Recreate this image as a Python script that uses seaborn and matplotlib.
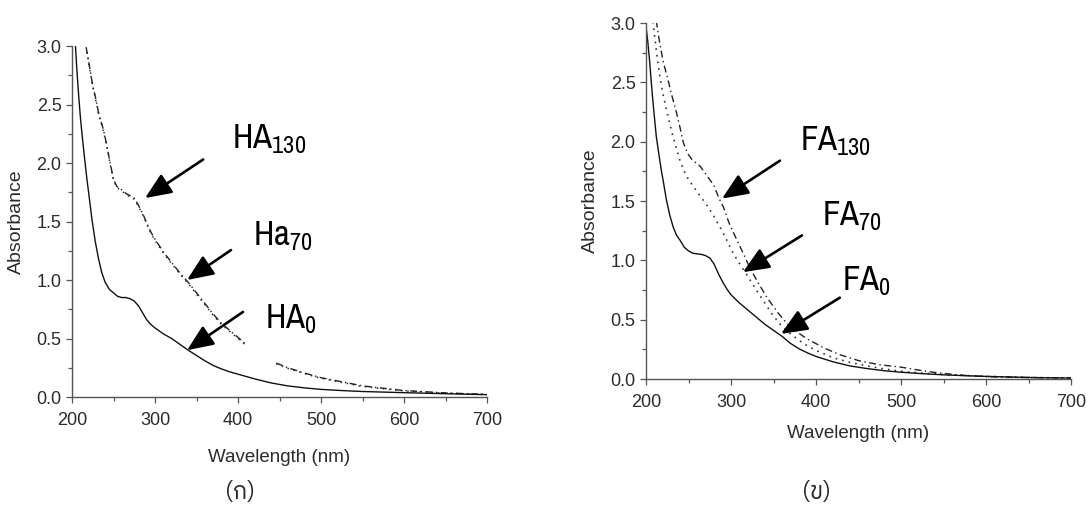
import numpy as np
import pandas as pd
import matplotlib
matplotlib.use("Agg")
import matplotlib.pyplot as plt
import seaborn as sns
from matplotlib import font_manager as fm
from matplotlib.ft2font import FT2Font
from matplotlib.ticker import MultipleLocator, FormatStrFormatter

# ---------------- data ----------------
# Panel (ก): humic acid
HA0_WL = [204, 206, 208, 210, 212, 215, 218, 220, 224, 228, 232, 236, 240, 245, 250, 255, 260, 265,
          270, 275, 280, 285, 290, 295, 300, 310, 320, 330, 340, 350, 360, 370, 380, 390, 400,
          420, 440, 460, 480, 500, 525, 550, 575, 600, 650, 700]
HA0_ABS = [3.02, 2.78, 2.58, 2.40, 2.25, 2.05, 1.86, 1.75, 1.52, 1.33, 1.18, 1.06, 0.98, 0.92, 0.89,
           0.86, 0.85, 0.85, 0.84, 0.82, 0.78, 0.72, 0.66, 0.62, 0.59, 0.54, 0.50, 0.45, 0.40, 0.355,
           0.31, 0.27, 0.24, 0.215, 0.195, 0.155, 0.12, 0.095, 0.078, 0.065, 0.055, 0.047, 0.042,
           0.037, 0.028, 0.02]

HA130_WL = [217, 220, 225, 228, 232, 238, 242, 246, 250, 254, 260, 265, 270, 275, 280, 285, 290,
            295, 300, 310, 320, 330, 340, 350, 360, 370, 380, 390, 400, 408, 427, 446, 460, 480,
            500, 525, 550, 575, 600, 650, 700]
HA130_ABS = [2.99, 2.87, 2.66, 2.57, 2.43, 2.28, 2.15, 2.00, 1.86, 1.80, 1.77, 1.74, 1.72, 1.70,
             1.64, 1.57, 1.49, 1.41, 1.35, 1.24, 1.15, 1.06, 0.98, 0.89, 0.80, 0.71, 0.63, 0.57,
             0.51, 0.46, np.nan, 0.29, 0.25, 0.205, 0.165, 0.13, 0.095, 0.075, 0.055, 0.035, 0.022]

HA70_WL = [218, 220, 225, 228, 232, 238, 242, 246, 250, 254, 260, 265, 270, 275, 280, 285, 290,
           295, 300, 310, 320, 330, 340, 350, 360, 370, 380, 390, 400, 408, 427, 446, 460, 480,
           500, 525, 550, 575, 600, 650, 700]
HA70_ABS = [2.95, 2.86, 2.65, 2.56, 2.42, 2.27, 2.14, 1.99, 1.85, 1.79, 1.76, 1.73, 1.71, 1.69,
            1.63, 1.56, 1.48, 1.40, 1.34, 1.23, 1.14, 1.05, 0.97, 0.88, 0.79, 0.70, 0.62, 0.56,
            0.50, 0.45, np.nan, 0.285, 0.245, 0.20, 0.16, 0.125, 0.09, 0.07, 0.052, 0.033, 0.021]

# Panel (ข): fulvic acid
FA0_WL = [200, 202, 204, 206, 208, 210, 212, 215, 218, 220, 224, 228, 232, 236, 240, 245, 250,
          255, 260, 265, 270, 275, 280, 285, 290, 295, 300, 310, 320, 330, 340, 350, 360, 370,
          380, 390, 400, 420, 440, 460, 480, 500, 525, 550, 575, 600, 650, 700]
FA0_ABS = [2.97, 2.85, 2.70, 2.52, 2.35, 2.20, 2.05, 1.90, 1.76, 1.68, 1.51, 1.38, 1.28, 1.21,
           1.17, 1.11, 1.08, 1.06, 1.055, 1.05, 1.04, 1.02, 0.97, 0.89, 0.82, 0.76, 0.71, 0.64,
           0.58, 0.52, 0.46, 0.41, 0.36, 0.30, 0.255, 0.22, 0.19, 0.145, 0.11, 0.088, 0.07,
           0.057, 0.045, 0.035, 0.028, 0.022, 0.013, 0.008]

FA70_WL = [208, 210, 213, 216, 220, 225, 230, 234, 240, 245, 250, 256, 262, 268, 272, 280, 287,
           293, 299, 305, 312, 318, 328, 338, 348, 358, 370, 385, 400, 420, 440, 460, 480, 500,
           525, 550, 575, 600, 650, 700]
FA70_ABS = [3.01, 2.90, 2.72, 2.56, 2.40, 2.24, 2.09, 1.99, 1.84, 1.75, 1.68, 1.62, 1.56, 1.50,
            1.46, 1.37, 1.28, 1.20, 1.11, 1.03, 0.95, 0.885, 0.77, 0.66, 0.55, 0.46, 0.38, 0.30,
            0.24, 0.18, 0.14, 0.11, 0.085, 0.065, 0.05, 0.038, 0.03, 0.022, 0.013, 0.008]

FA130_WL = [212, 215, 220, 226, 230, 236, 240, 244, 249, 254, 259, 264, 270, 275, 280, 286, 291,
            298, 307, 315, 322, 332, 342, 355, 369, 389, 410, 428, 450, 475, 500, 525, 545, 575,
            600, 650, 700]
FA130_ABS = [3.02, 2.88, 2.68, 2.52, 2.40, 2.24, 2.12, 1.99, 1.90, 1.85, 1.82, 1.79, 1.73, 1.68,
             1.63, 1.52, 1.45, 1.31, 1.17, 1.05, 0.94, 0.81, 0.69, 0.56, 0.44, 0.34, 0.26, 0.205,
             0.155, 0.12, 0.10, 0.07, 0.05, 0.03, 0.02, 0.012, 0.008]

PANEL_CAPTIONS = ["(ก)", "(ข)"]
X_LABEL = "Wavelength (nm)"
Y_LABEL = "Absorbance"

# ---------------- fonts ----------------
sns.set_style("ticks")


def font_with_char(ch, prefer=()):
    cands = []
    for f in fm.fontManager.ttflist:
        try:
            if ord(ch) in FT2Font(f.fname).get_charmap():
                cands.append(f)
        except Exception:
            pass
    for p in prefer:
        for f in cands:
            if p.lower() in f.name.lower():
                return f.name
    return cands[0].name if cands else None


thai_font = font_with_char("ก", prefer=("Thai", "Sarabun", "Loma", "Garuda", "Norasi"))


def narrow_font():
    for f in fm.fontManager.ttflist:
        n = (f.name + " " + f.fname).lower()
        if "narrow" in n and "bold" not in n and "italic" not in n:
            return fm.FontProperties(fname=f.fname)
    for f in fm.fontManager.ttflist:
        n = (f.name + " " + f.fname).lower()
        if "condensed" in n and "bold" not in n and "oblique" not in n and "italic" not in n:
            return fm.FontProperties(fname=f.fname)
    return fm.FontProperties(family="DejaVu Sans", stretch="condensed")


plt.rcParams["font.family"] = ["Liberation Sans", "DejaVu Sans"]
plt.rcParams["mathtext.default"] = "regular"

TEXT_COL = "#2b2b2b"
AXIS_COL = "#555555"
W, H = 1091, 505

fig = plt.figure(figsize=(W / 100, H / 100), dpi=100)
ax1 = fig.add_axes([72 / W, 1 - 397 / H, 415 / W, 351 / H])
ax2 = fig.add_axes([646 / W, 1 - 379 / H, 425 / W, 356 / H])


def draw_series(ax, wl, ab, ls, lw, color):
    df = pd.DataFrame({"wl": wl, "ab": ab})
    seg = df["ab"].isna().cumsum()
    for _, part in df.dropna().groupby(seg[df["ab"].notna()]):
        sns.lineplot(data=part, x="wl", y="ab", ax=ax, color=color, linewidth=lw,
                     linestyle=ls, estimator=None, sort=False, legend=False)


DASHDOT = (0, (5, 2.5, 1, 2.5))
DOT = (0, (1, 3))

draw_series(ax1, HA70_WL, HA70_ABS, DOT, 1.1, "#333333")
draw_series(ax1, HA130_WL, HA130_ABS, DASHDOT, 1.0, "#222222")
draw_series(ax1, HA0_WL, HA0_ABS, "-", 1.0, "#111111")

draw_series(ax2, FA70_WL, FA70_ABS, DOT, 1.2, "#333333")
draw_series(ax2, FA130_WL, FA130_ABS, DASHDOT, 1.0, "#222222")
draw_series(ax2, FA0_WL, FA0_ABS, "-", 1.0, "#111111")

for ax, xl_top, yl_x in ((ax1, (397 - 449) / 351, -50 / 415), (ax2, (379 - 425) / 356, -50 / 425)):
    ax.set_xlim(200, 700)
    ax.set_ylim(0, 3.0)
    ax.xaxis.set_major_locator(MultipleLocator(100))
    ax.xaxis.set_minor_locator(MultipleLocator(50))
    ax.yaxis.set_major_locator(MultipleLocator(0.5))
    ax.yaxis.set_minor_locator(MultipleLocator(0.25))
    ax.yaxis.set_major_formatter(FormatStrFormatter("%.1f"))
    sns.despine(ax=ax)
    for s in ("left", "bottom"):
        ax.spines[s].set_color(AXIS_COL)
        ax.spines[s].set_linewidth(1.0)
    ax.tick_params(which="major", direction="out", length=4.5, width=0.9, color=AXIS_COL,
                   labelsize=13, labelcolor=TEXT_COL)
    ax.tick_params(axis="x", which="major", pad=6)
    ax.tick_params(axis="y", which="major", pad=3)
    ax.tick_params(which="minor", direction="out", length=3, width=0.9, color=AXIS_COL)
    ax.set_xlabel(X_LABEL, fontsize=13.5, color=TEXT_COL)
    ax.xaxis.set_label_coords(0.5, xl_top)
    ax.set_ylabel(Y_LABEL, fontsize=14, color=TEXT_COL, labelpad=8)
    ax.set_facecolor("white")

nfp = narrow_font()
nfp.set_size(25)

ARROW = dict(arrowstyle="-|>,head_length=0.8,head_width=0.34", color="black",
             lw=1.9, mutation_scale=20, shrinkA=0, shrinkB=0)

ann1 = [("HA$_{130}$", (392.8, 2.125), (358, 2.03), (288, 1.70)),
        ("Ha$_{70}$", (418, 1.30), (391.6, 1.256), (338.6, 1.00)),
        ("HA$_{0}$", (432.5, 0.587), (406, 0.727), (338.6, 0.40))]
ann2 = [("FA$_{130}$", (381, 1.927), (357.6, 1.84), (289.4, 1.52)),
        ("FA$_{70}$", (407, 1.293), (383.5, 1.21), (314, 0.90)),
        ("FA$_{0}$", (430.6, 0.744), (428, 0.685), (358.8, 0.38))]

for ax, anns in ((ax1, ann1), (ax2, ann2)):
    for label, tpos, tail, tip in anns:
        ax.annotate("", xy=tip, xytext=tail, arrowprops=ARROW, annotation_clip=False)
        ax.text(tpos[0], tpos[1], label, fontproperties=nfp, color="black",
                ha="left", va="baseline", clip_on=False)

cap_fam = [thai_font, "DejaVu Sans"] if thai_font else ["DejaVu Sans"]
fig.text(240 / W, 1 - 492 / H, PANEL_CAPTIONS[0], family=cap_fam, fontsize=17,
         color=TEXT_COL, ha="center", va="center")
fig.text(817 / W, 1 - 492 / H, PANEL_CAPTIONS[1], family=cap_fam, fontsize=17,
         color=TEXT_COL, ha="center", va="center")

fig.savefig("out.png", dpi=100, facecolor="white")
